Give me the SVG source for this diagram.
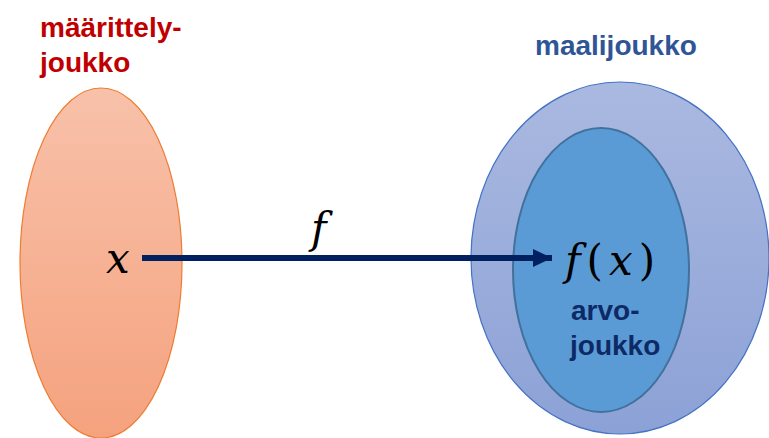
<svg xmlns="http://www.w3.org/2000/svg" width="769" height="438" viewBox="0 0 769 438">
<defs>
<linearGradient id="go" x1="0" y1="0" x2="0" y2="1"><stop offset="0" stop-color="#F8C1AA"/><stop offset="1" stop-color="#F5A27E"/></linearGradient>
<linearGradient id="gb" x1="0" y1="0" x2="0" y2="1"><stop offset="0" stop-color="#AAB9E0"/><stop offset="1" stop-color="#8CA1D6"/></linearGradient>
<marker id="ah" markerUnits="userSpaceOnUse" markerWidth="20" markerHeight="20" refX="19" refY="9" orient="auto"><path d="M0,0 L19,9 L0,18 Z" fill="#002060"/></marker>
<style>
.lbl{font-family:"Liberation Sans",Arial,sans-serif;font-weight:bold;font-size:28px}
.math{font-family:"DejaVu Serif","Liberation Serif",serif;font-style:italic;fill:#000;font-size:42px}
</style>
</defs>
<g id="domain">
<ellipse cx="101" cy="263" rx="81" ry="175" fill="url(#go)" stroke="#ED7D31" stroke-width="1.2"/>
<text class="math" x="106" y="273">x</text>
<text class="lbl" fill="#C00000" x="40" y="37">määrittely-</text>
<text class="lbl" fill="#C00000" x="40" y="72">joukko</text>
</g>
<g id="codomain">
<ellipse cx="620" cy="258" rx="149" ry="176" fill="url(#gb)" stroke="#4472C4" stroke-width="1.2"/>
<text class="lbl" fill="#2F5597" x="535" y="55">maalijoukko</text>
</g>
<g id="range">
<ellipse cx="601" cy="270" rx="88" ry="142" fill="#5B9BD5" stroke="#41719C" stroke-width="2"/>
<text class="math" x="565" y="275" font-size="46" letter-spacing="6">f<tspan font-style="normal">(</tspan>x<tspan font-style="normal">)</tspan></text>
<text class="lbl" fill="#0D2A66" x="571" y="320">arvo-</text>
<text class="lbl" fill="#0D2A66" x="570" y="355">joukko</text>
</g>
<g id="connectors">
<line x1="142" y1="258" x2="552" y2="258" stroke="#002060" stroke-width="6" marker-end="url(#ah)"/>
<text class="math" x="311" y="243">f</text>
</g>
</svg>
